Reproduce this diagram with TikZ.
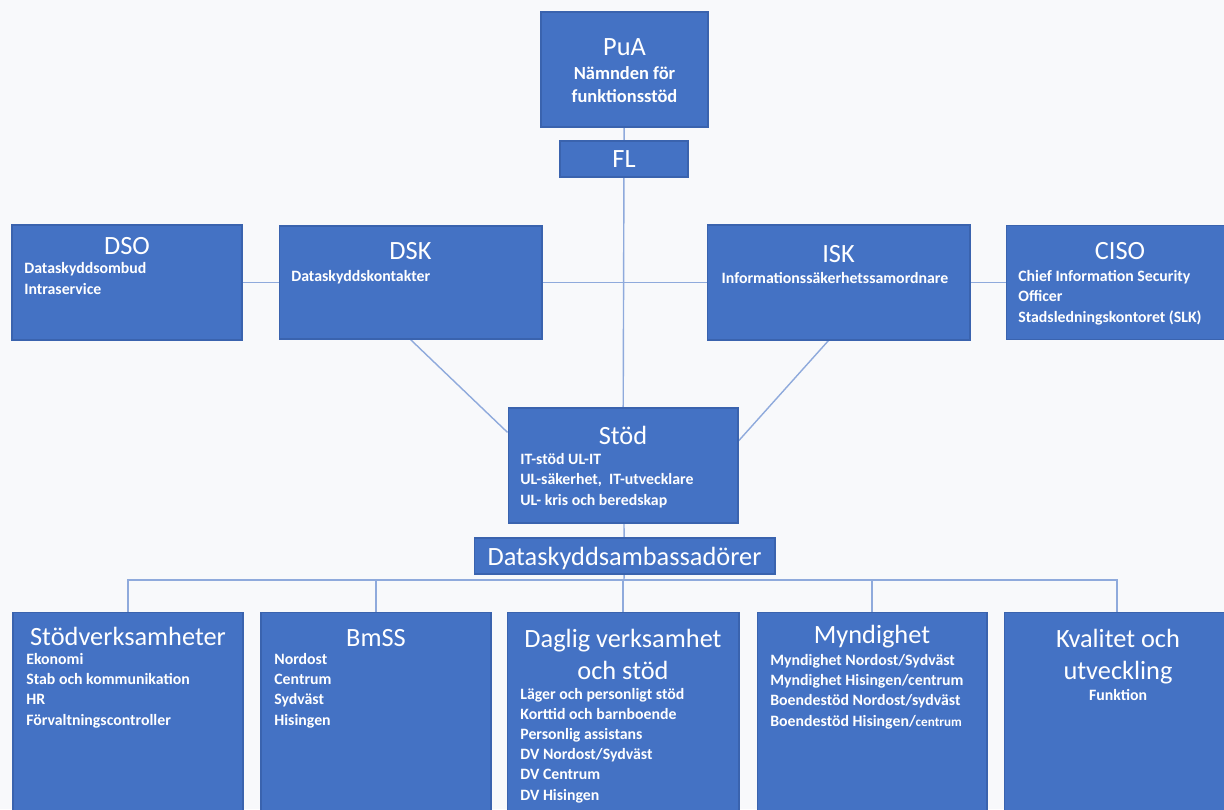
\documentclass[tikz,border=0pt]{standalone}
\usepackage{fontspec}
\setmainfont{Carlito}
\usetikzlibrary{backgrounds}

\definecolor{boxblue}{HTML}{4472C4}
\definecolor{boxedge}{HTML}{3A63AE}
\definecolor{linkblue}{HTML}{8FAADC}
\definecolor{paper}{HTML}{F8F9FB}

\tikzset{
	box/.style={draw=boxedge, fill=boxblue, line width=0.6pt},
	head/.style={text=white, font=\fontsize{15}{18.2}\selectfont, inner sep=0pt, anchor=base, align=center},
	body/.style={text=white, font=\bfseries\fontsize{9}{11.4}\selectfont, inner sep=0pt, anchor=base west, align=left},
	link/.style={draw=linkblue, line width=0.8pt},
}

\begin{document}
\begin{tikzpicture}[x=0.02cm, y=-0.02cm]
	\useasboundingbox (0,0) rectangle (1224,809);

	\node[box, minimum width=3.34cm, minimum height=2.3cm] (pua) at (624.5, 69.5) {};
	\node[box, minimum width=2.56cm, minimum height=0.72cm] (fl) at (624, 159) {};

	\node[box, minimum width=4.6cm, minimum height=2.3cm] (dso) at (127, 282.5) {};
	\node[box, minimum width=5.26cm, minimum height=2.26cm] (dsk) at (410.5, 282.5) {};
	\node[box, minimum width=5.26cm, minimum height=2.3cm] (isk) at (838.5, 282.5) {};
	\node[box, minimum width=4.48cm, minimum height=2.28cm] (ciso) at (1118, 282.5) {};

	\node[box, minimum width=4.6cm, minimum height=2.3cm] (stod) at (623, 465.5) {};
	\node[box, minimum width=6.02cm, minimum height=0.72cm] (amb) at (624.5, 556) {};

	\node[box, minimum width=4.6cm, minimum height=4.06cm] (sv) at (128, 713.5) {};
	\node[box, minimum width=4.6cm, minimum height=4.06cm] (bmss) at (376, 713.5) {};
	\node[box, minimum width=4.64cm, minimum height=4.06cm] (dv) at (623, 713.5) {};
	\node[box, minimum width=4.6cm, minimum height=4.06cm] (myn) at (872, 713.5) {};
	\node[box, minimum width=4.52cm, minimum height=4.06cm] (kval) at (1117, 713.5) {};

	% multi-line texts sit on the baseline of their last line
	\node[head] (pua-t) at (624.5, 55) {PuA};
	\node[head, font=\bfseries\fontsize{10.5}{13}\selectfont] (pua-b) at (624.5, 102) {Nämnden för\\funktionsstöd};
	\node[head] (fl-t) at (624, 167) {FL};

	\node[head] (dso-t) at (127, 254) {DSO};
	\node[body] (dso-b) at (24, 294) {Dataskyddsombud\\Intraservice};
	\node[head] (dsk-t) at (410.5, 259) {DSK};
	\node[body] (dsk-b) at (291, 281) {Dataskyddskontakter};
	\node[head] (isk-t) at (838.5, 262) {ISK};
	\node[body, anchor=base] (isk-b) at (835, 283) {Informationssäkerhetssamordnare};
	\node[head] (ciso-t) at (1120, 259) {CISO};
	\node[body] (ciso-b) at (1018, 322) {Chief Information Security\\Officer\\Stadsledningskontoret (SLK)};

	\node[head] (stod-t) at (623, 444) {Stöd};
	\node[body] (stod-b) at (520, 505) {IT-stöd UL-IT\\UL-säkerhet,\ \ IT-utvecklare\\UL- kris och beredskap};
	\node[head] (amb-t) at (624.5, 565) {Dataskyddsambassadörer};

	\node[head] (sv-t) at (128, 645) {Stödverksamheter};
	\node[body] (sv-b) at (26, 725) {Ekonomi\\Stab och kommunikation\\HR\\Förvaltningscontroller};
	\node[head] (bmss-t) at (376, 646) {BmSS};
	\node[body] (bmss-b) at (274, 725) {Nordost\\Centrum\\Sydväst\\Hisingen};
	\node[head] (dv-t) at (623, 679) {Daglig verksamhet\\och stöd};
	\node[body] (dv-b) at (520, 800) {Läger och personligt stöd\\Korttid och barnboende\\Personlig assistans\\DV Nordost/Sydväst\\DV Centrum\\DV Hisingen};
	\node[head] (myn-t) at (872, 643) {Myndighet};
	\node[body] (myn-b) at (770, 726) {Myndighet Nordost/Sydväst\\Myndighet Hisingen/centrum\\Boendestöd Nordost/sydväst\\Boendestöd Hisingen/{\fontsize{7.5}{9}\selectfont centrum}};
	\node[head] (kval-t) at (1118, 679) {Kvalitet och\\utveckling};
	\node[body, anchor=base] (kval-b) at (1118, 700) {Funktion};

	\coordinate (bus) at (624, 580);

	\begin{scope}[on background layer]
		\fill[paper] (0,0) rectangle (1224,809);
		\draw[link] (pua) -- (fl);
		\draw[link] (fl) -- (stod);
		\draw[link] (dso) -- (ciso);
		\draw[link] (dsk.south) -- (stod.164);
		\draw[link] ([xshift=-0.2cm]isk.south) -- (stod.12);
		\draw[link] (stod) -- (amb);
		\draw[link] (amb) -- (bus);
		\draw[link] (sv.north) |- (bus) -| (kval.north);
		\foreach \n in {bmss,dv,myn}
			\draw[link] (\n.north) -- (\n.north |- bus);
	\end{scope}

\end{tikzpicture}
\end{document}
